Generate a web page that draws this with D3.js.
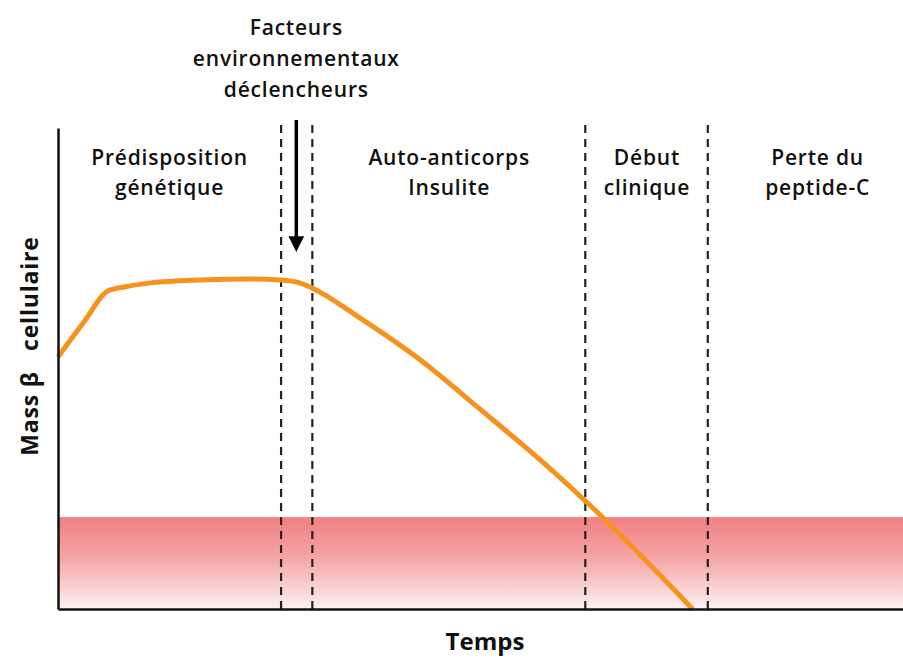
<!DOCTYPE html>
<html><head><meta charset="utf-8">
<script src="https://cdn.jsdelivr.net/npm/d3@7"></script>
<style>
body{margin:0;background:#fff;}
text{font-family:"Open Sans",sans-serif;fill:#111;}
</style></head>
<body><svg id="c" width="903" height="660"></svg>
<script>
// Data
const curveTime = [0, 3.0, 5.9, 8.0, 11.0, 16.8, 22.7, 26.3, 28.6, 30.1, 35.9, 43.0, 49.9, 57.2, 63.3, 75.1];
const curveMass = [52.4, 59.5, 66.1, 67.0, 67.8, 68.4, 68.6, 68.4, 67.8, 66.7, 60.3, 51.6, 41.6, 30.8, 21.0, 0];
const phaseBoundaries = [26.4, 30.1, 62.4, 76.9];
const phaseLabels = [
  {t: 13.2, lines: ["Prédisposition", "génétique"]},
  {t: 46.3, lines: ["Auto-anticorps", "Insulite"]},
  {t: 69.7, lines: ["Début", "clinique"]},
  {t: 89.9, lines: ["Perte du", "peptide-C"]}
];
const triggerTime = 28.2;
const triggerLines = ["Facteurs", "environnementaux", "déclencheurs"];
const thresholdMass = 19.1;
const xTitle = "Temps";
const yTitle = "Mass β   cellulaire";

const svg = d3.select("#c");
const x = d3.scaleLinear().domain([0, 100]).range([58, 903]);
const y = d3.scaleLinear().domain([0, 100]).range([609, 128]);

const defs = svg.append("defs");
const grad = defs.append("linearGradient").attr("id", "band").attr("x1", 0).attr("y1", 0).attr("x2", 0).attr("y2", 1);
grad.append("stop").attr("offset", "0%").attr("stop-color", "#f07f82");
grad.append("stop").attr("offset", "45%").attr("stop-color", "#f5a5a6");
grad.append("stop").attr("offset", "100%").attr("stop-color", "#fdf2f2");
const mk = defs.append("marker").attr("id", "arr").attr("viewBox", "0 0 10 10").attr("refX", 5).attr("refY", 5)
  .attr("markerWidth", 4.5).attr("markerHeight", 4.5).attr("orient", "auto").attr("markerUnits", "strokeWidth");
mk.append("path").attr("d", "M0,0 L10,5 L0,10 z").attr("fill", "#000");

// threshold band
svg.append("rect").attr("x", x(0)).attr("y", y(thresholdMass)).attr("width", x(100) - x(0))
  .attr("height", y(0) - y(thresholdMass)).attr("fill", "url(#band)");

// phase boundaries
svg.selectAll("line.phase").data(phaseBoundaries).join("line").attr("class", "phase")
  .attr("x1", d => x(d)).attr("x2", d => x(d)).attr("y1", 125).attr("y2", y(0))
  .attr("stroke", "#222").attr("stroke-width", 2.2).attr("stroke-dasharray", "8,6");

// curve
const pts = curveTime.map((t, i) => [t, curveMass[i]]);
svg.append("path").datum(pts)
  .attr("d", d3.line().x(d => x(d[0])).y(d => y(d[1])).curve(d3.curveMonotoneX))
  .attr("fill", "none").attr("stroke", "#f7921e").attr("stroke-width", 5).attr("stroke-linecap", "butt");

// axes
svg.append("g").attr("transform", `translate(0,${y(0)})`).call(d3.axisBottom(x).tickValues([]).tickSizeOuter(0));
svg.append("g").attr("transform", `translate(${x(0)},0)`).call(d3.axisLeft(y).tickValues([]).tickSizeOuter(0));
svg.selectAll(".domain").attr("stroke", "#111").attr("stroke-width", 2.5);

// arrow
svg.append("line").attr("x1", x(triggerTime)).attr("x2", x(triggerTime)).attr("y1", 120).attr("y2", 244)
  .attr("stroke", "#000").attr("stroke-width", 3.5).attr("marker-end", "url(#arr)");

// trigger label
svg.append("text").attr("x", x(triggerTime)).attr("y", 35).attr("text-anchor", "middle")
  .style("font-size", "21px").style("font-weight", 600).style("letter-spacing", "0.8px")
  .selectAll("tspan").data(triggerLines).join("tspan").attr("x", x(triggerTime)).attr("dy", (d, i) => i ? 31 : 0).text(d => d);

// phase labels
phaseLabels.forEach(p => {
  svg.append("text").attr("x", x(p.t)).attr("y", 165).attr("text-anchor", "middle")
    .style("font-size", "21px").style("font-weight", 600).style("letter-spacing", "0.8px")
    .selectAll("tspan").data(p.lines).join("tspan").attr("x", x(p.t)).attr("dy", (d, i) => i ? 30 : 0).text(d => d);
});

// axis titles
svg.append("text").attr("x", 485).attr("y", 650).attr("text-anchor", "middle")
  .style("font-size", "24px").style("font-weight", 700).text(xTitle);
svg.append("text").attr("transform", "translate(38,346) rotate(-90)").attr("text-anchor", "middle")
  .style("font-size", "23px").style("font-weight", 700).style("letter-spacing", "0.8px").style("white-space", "pre").text(yTitle);
</script></body></html>
